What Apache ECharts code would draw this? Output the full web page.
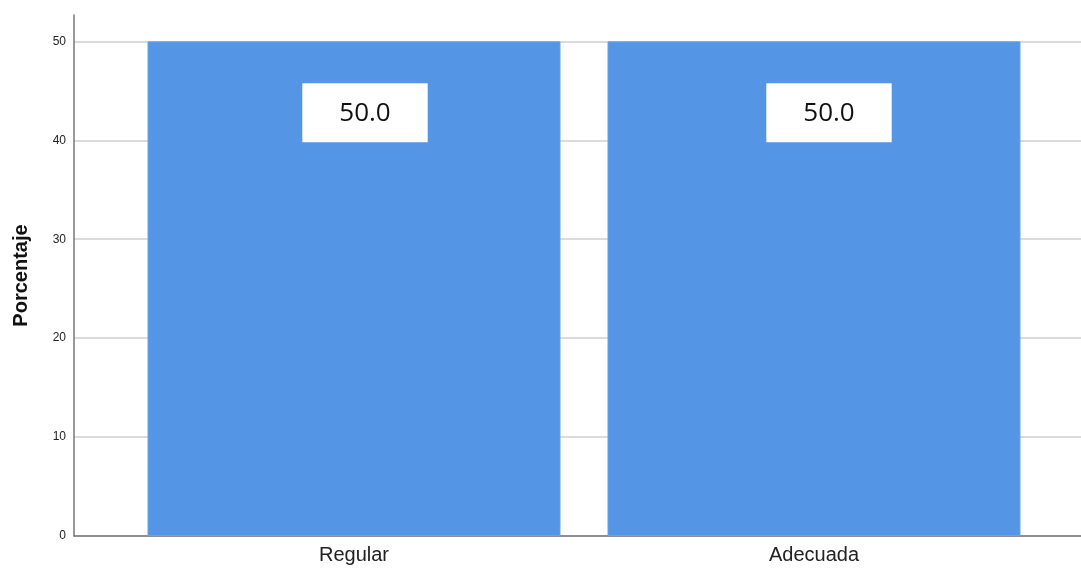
<!DOCTYPE html>
<html><head><meta charset="utf-8">
<script src="https://cdn.jsdelivr.net/npm/echarts@6/dist/echarts.min.js"></script>
<style>html,body{margin:0;padding:0;background:#fff}#c{width:1081px;height:568px}</style>
</head><body><div id="c"></div>
<script>
const categories = ['Regular', 'Adecuada'];
const percentages = [50.0, 50.0];
const yTicks = [0, 10, 20, 30, 40, 50];
const yTitle = 'Porcentaje';

const chart = echarts.init(document.getElementById('c'), null, {renderer: 'canvas'});
const yMax = 52.66;
const labelShift = [11, 15];
chart.setOption({
  animation: false,
  backgroundColor: '#ffffff',
  grid: [
    {left: 74, right: 0, top: 15, bottom: 32},
    {left: 124, right: 37, top: 15, bottom: 32}
  ],
  xAxis: [
    {gridIndex: 0, type: 'value', min: 0, max: 1,
     axisLine: {show: true, lineStyle: {color: '#777', width: 1.5}},
     axisTick: {show: false}, axisLabel: {show: false}, splitLine: {show: false}},
    {gridIndex: 1, type: 'category', data: categories,
     axisLine: {show: false}, axisTick: {show: false},
     axisLabel: {color: '#222', fontSize: 20, fontFamily: 'Liberation Sans, Arial', margin: 9}}
  ],
  yAxis: [
    {gridIndex: 0, type: 'value', min: 0, max: yMax, interval: 10,
     name: yTitle, nameLocation: 'middle', nameGap: 43,
     nameTextStyle: {fontSize: 20, fontWeight: 'bold', color: '#111', fontFamily: 'Liberation Sans, Arial'},
     axisLine: {show: true, lineStyle: {color: '#777', width: 1.5}},
     axisTick: {show: false},
     axisLabel: {color: '#222', fontSize: 12, fontFamily: 'Liberation Sans, Arial', margin: 8,
       showMaxLabel: false,
       formatter: v => yTicks.includes(v) ? String(v) : ''},
     splitLine: {show: true, showMaxLine: false, lineStyle: {color: '#cfcfcf', width: 1.5}}},
    {gridIndex: 1, type: 'value', min: 0, max: yMax, show: false, splitLine: {show: false}}
  ],
  series: [{
    type: 'bar', xAxisIndex: 1, yAxisIndex: 1,
    data: percentages.map((v, i) => ({value: v, label: {offset: [labelShift[i], 0]}})),
    barWidth: 413,
    itemStyle: {color: '#5595e5', borderColor: '#6aa3ea', borderWidth: 1},
    label: {show: true, position: 'insideTop', distance: 42,
      formatter: p => p.value.toFixed(1),
      backgroundColor: '#ffffff', padding: [17, 37, 16, 37],
      color: '#111', fontSize: 26, fontFamily: 'Open Sans, Noto Sans, sans-serif'}
  }]
});
</script></body></html>
